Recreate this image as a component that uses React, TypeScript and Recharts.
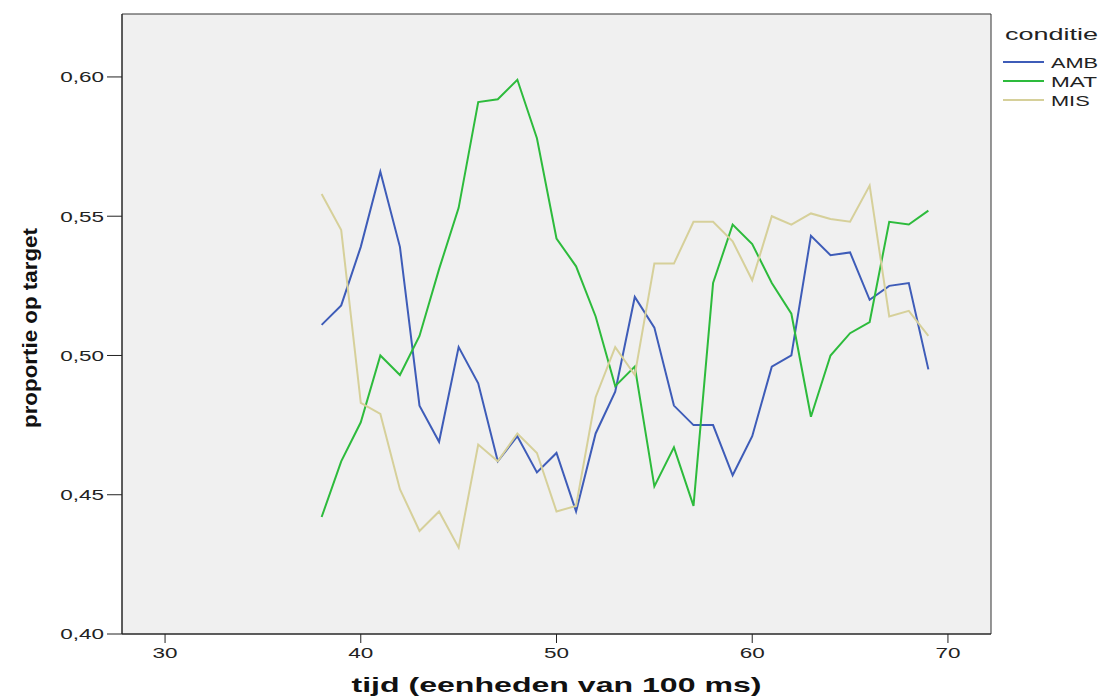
import React from 'react';
import { LineChart, Line, XAxis, YAxis, ReferenceArea, Legend, Label } from 'recharts';

const tijd = [38, 39, 40, 41, 42, 43, 44, 45, 46, 47, 48, 49, 50, 51, 52, 53, 54, 55, 56, 57, 58, 59, 60, 61, 62, 63, 64, 65, 66, 67, 68, 69];
const amb = [0.511, 0.518, 0.539, 0.566, 0.539, 0.482, 0.469, 0.503, 0.490, 0.462, 0.471, 0.458, 0.465, 0.444, 0.472, 0.487, 0.521, 0.510, 0.482, 0.475, 0.475, 0.457, 0.471, 0.496, 0.500, 0.543, 0.536, 0.537, 0.520, 0.525, 0.526, 0.495];
const mat = [0.442, 0.462, 0.476, 0.500, 0.493, 0.507, 0.531, 0.553, 0.591, 0.592, 0.599, 0.578, 0.542, 0.532, 0.514, 0.489, 0.496, 0.453, 0.467, 0.446, 0.526, 0.547, 0.540, 0.526, 0.515, 0.478, 0.500, 0.508, 0.512, 0.548, 0.547, 0.552];
const mis = [0.558, 0.545, 0.483, 0.479, 0.452, 0.437, 0.444, 0.431, 0.468, 0.462, 0.472, 0.465, 0.444, 0.446, 0.485, 0.503, 0.493, 0.533, 0.533, 0.548, 0.548, 0.541, 0.527, 0.550, 0.547, 0.551, 0.549, 0.548, 0.561, 0.514, 0.516, 0.507];

const seriesNames = ['AMB', 'MAT', 'MIS'];
const seriesColors = ['#3e5cb8', '#2dbb3c', '#d6d09a'];
const legendTitle = 'conditie';
const xTicks = [30, 40, 50, 60, 70];
const yTicks = [0.4, 0.45, 0.5, 0.55, 0.6];
const xDomain: [number, number] = [27.8, 72.2];
const yDomain: [number, number] = [0.4, 0.6226];

const data = tijd.map((t, i) => ({ tijd: t, AMB: amb[i], MAT: mat[i], MIS: mis[i] }));

const FONT = '"Liberation Sans", Arial, sans-serif';
const STRETCH = 1.5;

// approximate Arial advance widths (em) for stretching text like the reference
const W: Record<string, number> = {
  '0': 0.556, '1': 0.556, '2': 0.556, '3': 0.556, '4': 0.556, '5': 0.556, '6': 0.556, '7': 0.556, '8': 0.556, '9': 0.556,
  ',': 0.278, A: 0.667, M: 0.833, B: 0.667, T: 0.611, I: 0.278, S: 0.667,
};
const natural = (s: string, fs: number) => s.split('').reduce((a, c) => a + (W[c] ?? 0.556), 0) * fs;

const XTick = (props: any) => {
  const { x, y, payload } = props;
  const s = String(payload.value);
  return (
    <text x={x} y={y} dy="0.71em" textAnchor="middle" fontFamily={FONT} fontSize={15} fill="#222" textLength={natural(s, 15) * STRETCH} lengthAdjust="spacingAndGlyphs">
      {s}
    </text>
  );
};

const YTick = (props: any) => {
  const { x, y, payload } = props;
  const s = Number(payload.value).toFixed(2).replace('.', ',');
  return (
    <text x={x} y={y} dy="0.355em" textAnchor="end" fontFamily={FONT} fontSize={15} fill="#222" textLength={natural(s, 15) * STRETCH} lengthAdjust="spacingAndGlyphs">
      {s}
    </text>
  );
};

const renderLegend = () => (
  <svg width={99} height={110} style={{ display: 'block', overflow: 'visible' }}>
    <text x={2} y={40 - 24} fontFamily={FONT} fontSize={17} fill="#222" textLength={93} lengthAdjust="spacingAndGlyphs">
      {legendTitle}
    </text>
    {seriesNames.map((n, i) => {
      const ly = 62 - 24 + i * 19;
      return (
        <g key={n}>
          <line x1={0} y1={ly} x2={41} y2={ly} stroke={seriesColors[i]} strokeWidth={2} />
          <text x={48} y={ly + 5.5} fontFamily={FONT} fontSize={15} fill="#222" textLength={natural(n, 15) * 1.45} lengthAdjust="spacingAndGlyphs">
            {n}
          </text>
        </g>
      );
    })}
  </svg>
);

export default function App() {
  return (
    <div style={{ position: 'absolute', left: 0, top: 0, width: 1103, height: 698, background: '#fff' }}>
      <LineChart width={1103} height={698} data={data} margin={{ top: 14, right: 112, bottom: 0, left: 62 }}>
        <ReferenceArea
          x1={xDomain[0]}
          x2={xDomain[1]}
          y1={yDomain[0]}
          y2={yDomain[1]}
          fill="#f0f0f0"
          fillOpacity={1}
          stroke="#333"
          strokeWidth={1}
          ifOverflow="extendDomain"
        />
        <XAxis
          dataKey="tijd"
          type="number"
          domain={xDomain}
          ticks={xTicks}
          allowDataOverflow
          height={64}
          stroke="#222"
          tickSize={9}
          tickMargin={4}
          tick={<XTick />}
        >
          <Label
            content={(props: any) => {
              const vb = props.viewBox;
              const cx = vb.x + vb.width / 2;
              return (
                <text x={cx} y={692} textAnchor="middle" fontFamily={FONT} fontWeight="bold" fontSize={21} fill="#111" textLength={410} lengthAdjust="spacingAndGlyphs">
                  tijd (eenheden van 100 ms)
                </text>
              );
            }}
          />
        </XAxis>
        <YAxis
          type="number"
          domain={yDomain}
          ticks={yTicks}
          allowDataOverflow
          width={60}
          stroke="#222"
          tickSize={15}
          tickMargin={3}
          tick={<YTick />}
        >
          <Label
            content={(props: any) => {
              const vb = props.viewBox;
              const cy = vb.y + vb.height / 2 + 4;
              const x = 37;
              return (
                <text x={x} y={cy} transform={`rotate(-90 ${x} ${cy})`} textAnchor="middle" fontFamily={FONT} fontWeight="bold" fontSize={20} fill="#111" textLength={200} lengthAdjust="spacingAndGlyphs">
                  proportie op target
                </text>
              );
            }}
          />
        </YAxis>
        <Legend
          content={renderLegend}
          layout="vertical"
          verticalAlign="middle"
          align="center"
          wrapperStyle={{ position: 'absolute', left: 1003, top: 24, width: 99, height: 110 }}
        />
        {seriesNames.map((n, i) => (
          <Line key={n} type="linear" dataKey={n} stroke={seriesColors[i]} strokeWidth={2} dot={false} activeDot={false} isAnimationActive={false} />
        ))}
      </LineChart>
    </div>
  );
}
